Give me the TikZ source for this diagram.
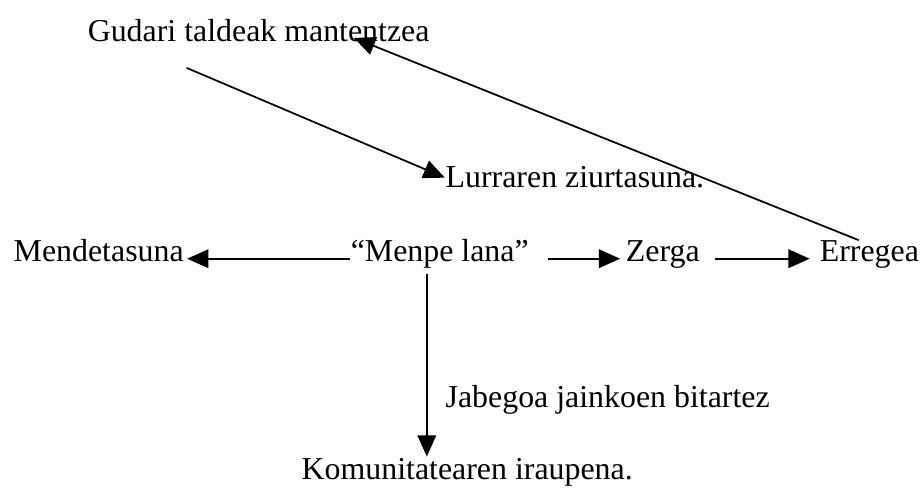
\documentclass[tikz,border=0pt]{standalone}
\usepackage{fontspec}
\setmainfont{Liberation Serif}
\usetikzlibrary{arrows.meta}

\tikzset{
    txt/.style={inner sep=0pt, anchor=base west, text height=0.7em, text depth=0.22em}
}

\begin{document}
\begin{tikzpicture}[font=\fontsize{24}{28}\selectfont, line width=1.3pt, >={Triangle[length=16pt,width=14pt]}]
            \useasboundingbox (0,0) rectangle (24.37,-12.91);

            \node [txt] (gudari) at (2.30,-1.11) {Gudari taldeak mantentzea};
            \node [txt] (lurra) at (11.77,-4.97) {Lurraren ziurtasuna.};
            \node [txt] (mende) at (0.34,-6.93) {Mendetasuna};
            \node [txt] (menpe) at (9.26,-6.93) {“Menpe lana”};
            \node [txt] (zerga) at (16.54,-6.93) {Zerga};
            \node [txt] (errege) at (21.67,-6.93) {Erregea};
            \node [txt] (jabe) at (11.77,-10.77) {Jabegoa jainkoen bitartez};
            \node [txt] (komun) at (7.96,-12.70) {Komunitatearen iraupena.};

            \draw[->] ([xshift=75pt,yshift=-19.5pt]gudari.base west) -- (lurra.north west);
            \draw[->] ([xshift=-8pt,yshift=8.7pt]errege.north) -- ([xshift=201pt,yshift=3pt]gudari.base west);

            \draw[->] (menpe.west) -- ([xshift=2pt]mende.east);
            \draw[->, shorten <=13.5pt, shorten >=3.75pt] (menpe.east) -- (zerga.west);
            \draw[->, shorten <=11pt, shorten >=7pt] (zerga.east) -- (errege.west);

            \draw[->] ([xshift=-9.75pt,yshift=-6pt]menpe.south) -- ([xshift=-9.75pt,yshift=10pt]menpe.south |- komun.north);

        \end{tikzpicture}
\end{document}
